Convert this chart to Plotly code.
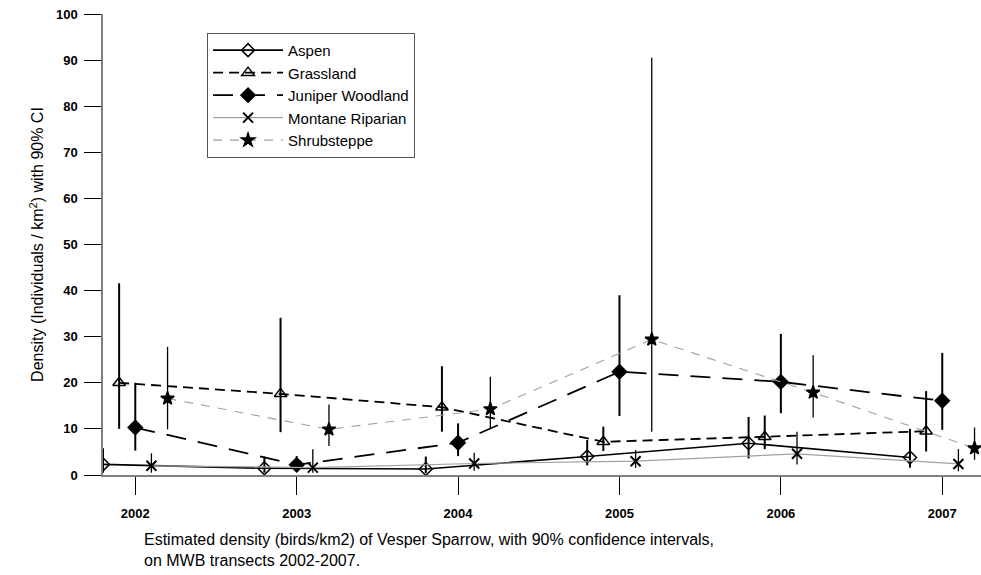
import plotly.graph_objects as go

# Data (density, upper CI, lower CI)
years = [2002, 2003, 2004, 2005, 2006, 2007]

aspen = [2.3, 1.45, 1.3, 4.0, 6.9, 3.8]
aspen_hi = [5.8, 4.0, 4.0, 7.6, 12.6, 10.0]
aspen_lo = [0.5, 0.5, 0.4, 2.1, 3.6, 1.6]

grass = [20.0, 17.6, 14.7, 7.2, 8.3, 9.5]
grass_hi = [41.6, 34.1, 23.6, 10.5, 12.9, 18.2]
grass_lo = [10.0, 9.3, 9.4, 5.2, 5.6, 5.1]

juniper = [10.3, 2.2, 7.0, 22.4, 20.2, 16.1]
juniper_hi = [20.0, 4.1, 11.2, 39.0, 30.6, 26.5]
juniper_lo = [5.3, 1.2, 4.1, 12.8, 13.4, 9.8]

montane = [2.0, 1.6, 2.5, 3.0, 4.6, 2.4]
montane_hi = [4.7, 5.6, 4.8, 5.4, 9.4, 5.6]
montane_lo = [0.5, 0.5, 0.9, 1.5, 2.3, 0.8]

shrub = [16.6, 9.9, 14.3, 29.4, 17.9, 5.8]
shrub_hi = [27.8, 15.3, 21.3, 90.5, 26.0, 10.3]
shrub_lo = [9.9, 6.3, 10.0, 9.4, 12.5, 3.3]

FONT = "Arial, Liberation Sans, sans-serif"

# name, values, hi, lo, x-offset, marker symbol, marker size, line style, error bar width
series = [
    ("Aspen", aspen, aspen_hi, aspen_lo, -0.2, "diamond-open", 10,
     dict(color="black", width=1.6, dash="solid"), 2),
    ("Grassland", grass, grass_hi, grass_lo, -0.1, "triangle-up-open", 11,
     dict(color="black", width=1.8, dash="10px,6px"), 2),
    ("Juniper Woodland", juniper, juniper_hi, juniper_lo, 0.0, "diamond", 11,
     dict(color="black", width=1.8, dash="20px,12px"), 2),
    ("Montane Riparian", montane, montane_hi, montane_lo, 0.1, "x-thin-open", 10,
     dict(color="#a0a0a0", width=1.2, dash="solid"), 1.3),
    ("Shrubsteppe", shrub, shrub_hi, shrub_lo, 0.2, "star", 10,
     dict(color="#a0a0a0", width=1.1, dash="9px,8px"), 1.3),
]

fig = go.Figure()
for name, vals, hi, lo, off, sym, size, line, ebw in series:
    fig.add_trace(go.Scatter(
        x=[y + off for y in years], y=vals, name=name,
        mode="lines+markers", line=line,
        marker=dict(symbol=sym, size=size, color="black",
                    line=dict(color="black", width=2 if "x" in sym else 1.5)),
        error_y=dict(type="data", symmetric=False,
                     array=[h - v for h, v in zip(hi, vals)],
                     arrayminus=[v - l for v, l in zip(vals, lo)],
                     width=0, thickness=ebw, color="black"),
    ))

fig.update_layout(
    width=981, height=575,
    margin=dict(l=103, r=0, t=14, b=100),
    plot_bgcolor="white", paper_bgcolor="white",
    font=dict(family=FONT, color="black"),
    showlegend=True,
    legend=dict(x=0.1185, y=0.959, xanchor="left", yanchor="top",
                bordercolor="#555", borderwidth=1, bgcolor="white",
                font=dict(size=15, family=FONT), itemwidth=70,
                tracegroupgap=0),
    xaxis=dict(range=[2001.8, 2007.24], tickvals=years,
               ticktext=[str(y) for y in years],
               ticks="outside", ticklen=18, tickwidth=1, tickcolor="black",
               showline=True, linecolor="#808080", linewidth=1.5,
               showgrid=False, zeroline=False, ticklabelstandoff=8,
               tickfont=dict(size=13, family=FONT, weight="bold")),
    yaxis=dict(range=[0, 100], dtick=10,
               ticks="outside", ticklen=17, tickwidth=1, tickcolor="black",
               showline=True, linecolor="#808080", linewidth=1.5,
               showgrid=False, zeroline=False, ticklabelstandoff=4,
               tickfont=dict(size=13, family=FONT, weight="bold"),
               title=dict(text="Density (Individuals / km<sup>2</sup>) with 90% CI",
                          font=dict(size=16, family=FONT), standoff=8)),
    annotations=[dict(
        text="Estimated density (birds/km2) of Vesper Sparrow, with 90% confidence intervals,"
             "<br>on MWB transects 2002-2007.",
        xref="paper", yref="paper", x=0.0444, y=-0.117,
        xanchor="left", yanchor="top", align="left", showarrow=False,
        font=dict(size=16, family=FONT))],
)

fig.write_html("out.html", config={"displayModeBar": False},
               post_script="document.body.style.margin='0';")
